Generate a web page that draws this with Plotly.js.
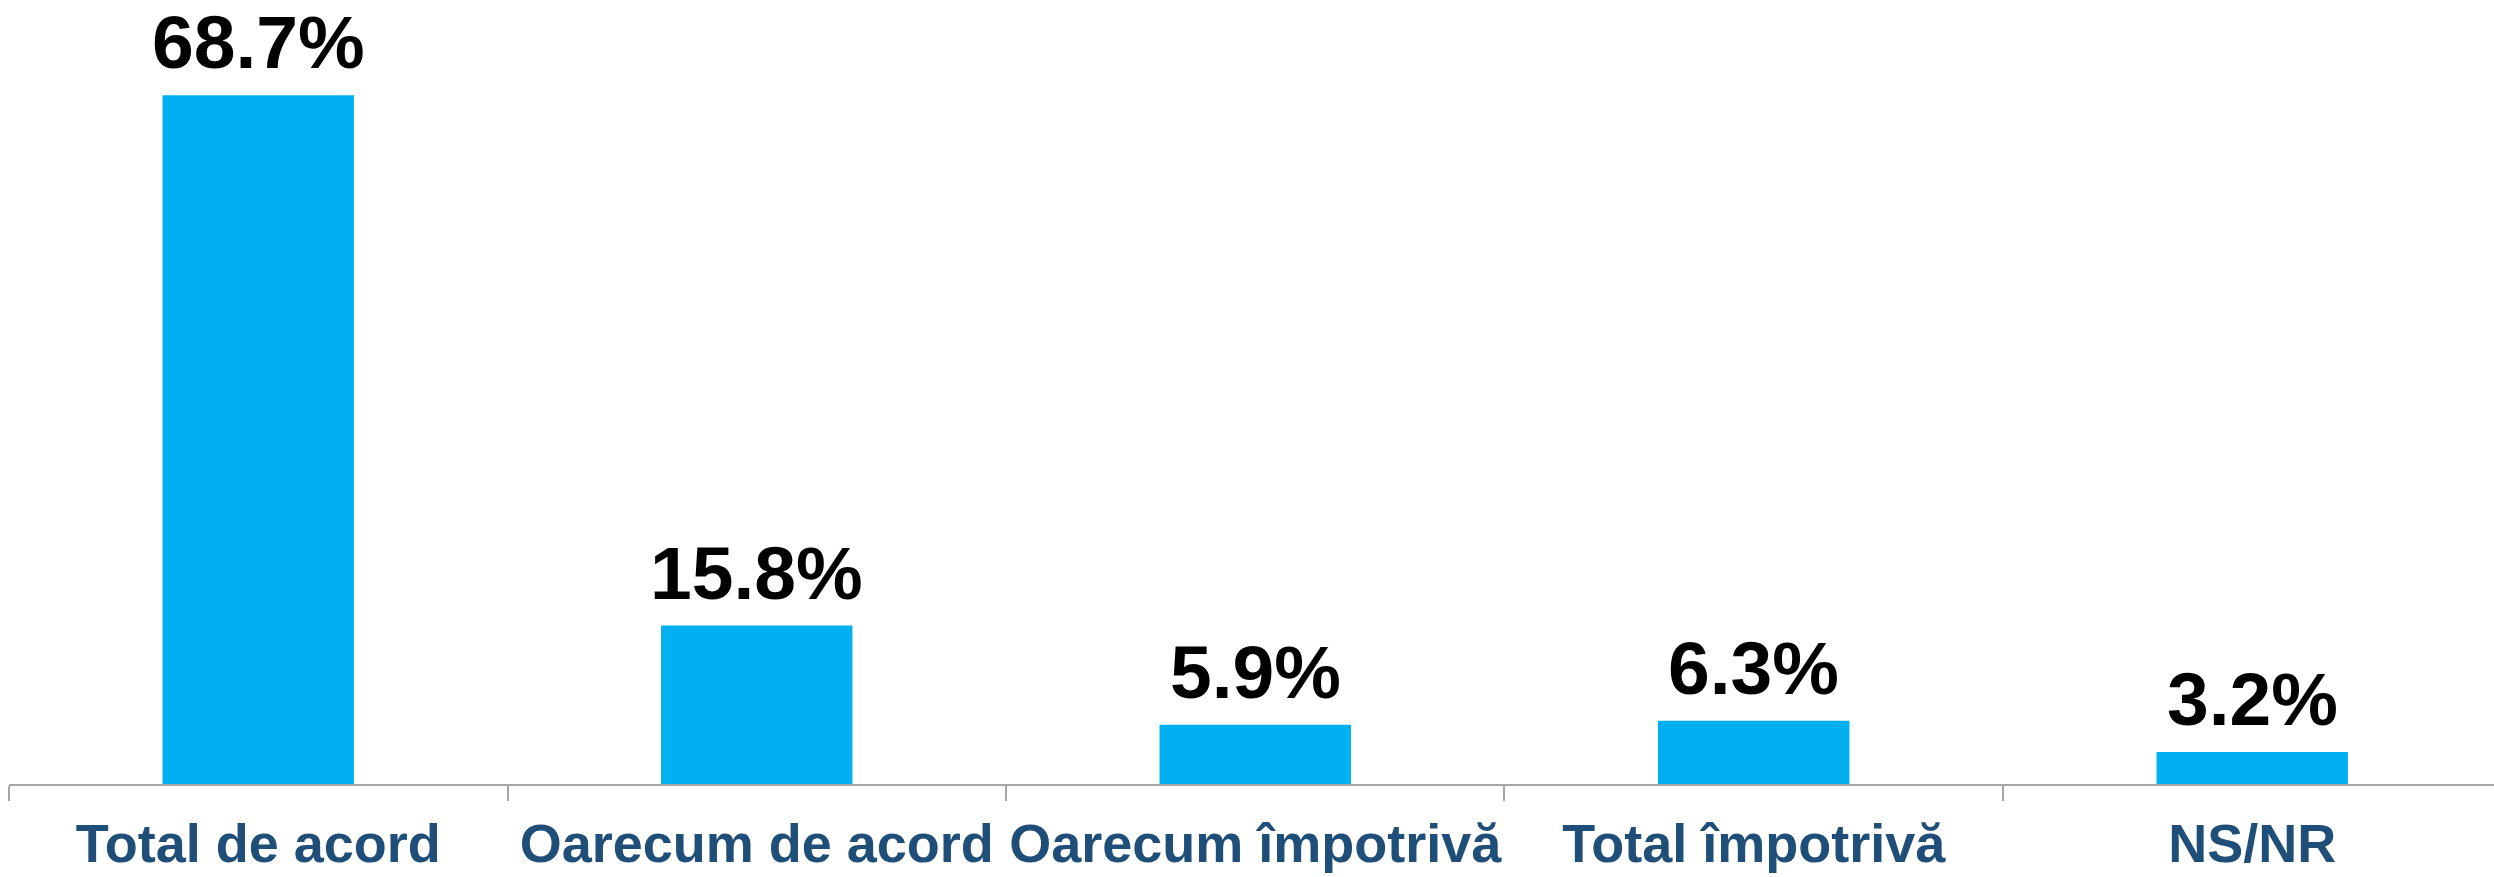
<!DOCTYPE html>
<html>
<head>
<meta charset="utf-8">
<script src="https://cdn.plot.ly/plotly-3.0.1.min.js"></script>
<style>html,body{margin:0;padding:0;background:#fff;}#chart{width:2494px;height:877px;}</style>
</head>
<body>
<div id="chart"></div>
<script>
const categories = ["Total de acord", "Oarecum de acord", "Oarecum împotrivă", "Total împotrivă", "NS/NR"];
const values = [68.7, 15.8, 5.9, 6.3, 3.2];
const valueLabels = values.map(v => v.toFixed(1) + '%');

const trace = {
  type: 'bar',
  x: categories,
  y: values,
  width: 0.384,
  marker: {color: '#00B0F0'},
  cliponaxis: false,
  hoverinfo: 'skip'
};

const annotations = categories.map((c, i) => ({
  x: c,
  y: values[i],
  xref: 'x',
  yref: 'y',
  text: valueLabels[i],
  showarrow: false,
  xanchor: 'center',
  yanchor: 'bottom',
  yshift: 9,
  font: {family: 'Liberation Sans, Arial, sans-serif', size: 75, color: '#000000', weight: 'bold'}
}));

const layout = {
  width: 2494,
  height: 877,
  margin: {l: 9, r: 0, t: 0, b: 93},
  paper_bgcolor: '#ffffff',
  plot_bgcolor: '#ffffff',
  showlegend: false,
  annotations: annotations,
  xaxis: {
    type: 'category',
    range: [-0.5, 4.485],
    tickson: 'boundaries',
    ticks: 'outside',
    ticklen: 15,
    tickwidth: 2,
    tickcolor: '#A6A6A6',
    tickangle: 0,
    ticklabelstandoff: 11,
    showline: true,
    linecolor: '#A6A6A6',
    linewidth: 2,
    showgrid: false,
    zeroline: false,
    tickfont: {family: 'Liberation Sans, Arial, sans-serif', size: 54, color: '#1F4E79', weight: 'bold'},
    automargin: false
  },
  yaxis: {
    range: [0, 78.2],
    visible: false,
    showgrid: false,
    zeroline: false,
    fixedrange: true
  }
};

Plotly.newPlot('chart', [trace], layout, {displayModeBar: false, staticPlot: true});
</script>
</body>
</html>
